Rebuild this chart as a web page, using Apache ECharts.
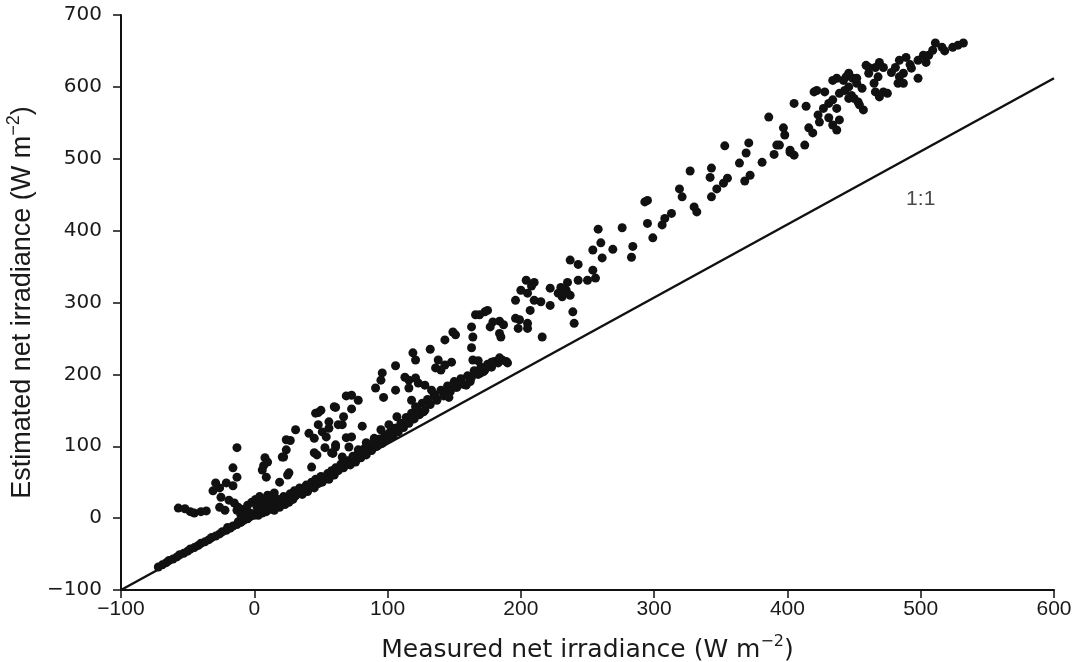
<!DOCTYPE html>
<html>
<head>
<meta charset="UTF-8">
<title>Net irradiance</title>
<script src="https://cdn.jsdelivr.net/npm/echarts@6/dist/echarts.min.js"></script>
<style>
  html, body { margin: 0; padding: 0; background: #fff; }
  #chart { width: 1081px; height: 662px; }
</style>
</head>
<body>
<div id="chart"></div>
<script>
  // axis ticks
  var xTicks = [-100, 0, 100, 200, 300, 400, 500, 600];
  var yTicks = [-100, 0, 100, 200, 300, 400, 500, 600, 700];

  // 1:1 reference line (as drawn in the figure)
  var oneToOne = [[-100, -100], [600, 612]];
  var oneToOneLabel = [[500, 444]];

  // points hugging the 1:1 line at low irradiance
  var lowStrip = [[-72,-68],[-69,-65],[-66,-62],[-64,-59],[-61,-57],[-58,-54],[-56,-51],[-53,-49],[-50,-46],[-48,-43],
    [-45,-41],[-42,-38],[-40,-35],[-37,-33],[-34,-30],[-32,-27],[-29,-25],[-26,-22],[-24,-19],[-21,-17],[-18,-14],
    [-16,-11],[-13,-9],[-10,-6],[-8,-3],[-5,-1],[-3,2],[0,4],[-20,-13],[-12,-5],[-6,0],[-2,6]];

  // lower arm of the cloud
  var lowerArm = [[2,8],[3,4],[5,11],[6,7],[8,14],[9,9],[10,18],[11,12],[13,16],[14,22],[15,11],[17,20],[18,26],
    [19,15],[21,24],[22,30],[23,19],[25,28],[26,22],[27,34],[29,26],[30,38],[31,31],[33,36],[34,42],[36,33],[37,40],
    [39,46],[40,37],[42,44],[43,50],[45,42],[46,54],[48,48],[50,58],[51,50],[53,56],[55,62],[56,54],[58,66],[60,60],
    [61,70],[-8,12],[-5,18],[-2,22],[1,26],[4,30],[7,24],[10,32],[12,28],[15,35],[-4,8],[2,16],[6,20],
    [63,66],[65,75],[67,70],[70,80],[72,74],[74,86],[76,78],[78,90],[80,84],[82,96],[84,88],[86,100],[88,94],
    [90,106],[92,100],[94,110],[96,104],[98,116],[100,110],[102,120],[104,114],[106,125],[108,120],[110,132],
    [112,126],[114,140],[116,132],[118,146],[120,138],[122,152],[124,144],[126,160],[128,150],[130,165],[132,158],
    [135,172],[137,164],[140,178],[142,170],[145,184],[147,176],[150,190],[152,182],[155,194],[157,186],[160,198],
    [162,190],[165,205],[168,200],[170,210],[172,204],[175,214],[178,210],[180,218],[183,216],[186,220],[189,218]];

  // upper arm, low end
  var upperLow = [[-57,14],[-52,13],[-48,9],[-45,7],[-40,9],[-36,10],[-29,49],[-26,42],[-31,38],[-25,29],[-26,15],
    [-22,11],[-21,49],[-16,45],[-19,25],[-15,21],[-13,11],[-13,98],[-16,70],[-13,57],[-12,15],[-10,4],[8,84],[10,78],
    [6,67],[9,57],[19,50],[24,95],[21,85],[24,109],[31,123],[41,118],[46,146],[45,91],[43,71],[26,63],
    [27,108],[22,85],[7,73],[25,60],[48,147],[61,154],[69,170],[48,130],[56,125],[63,130],[61,102],[69,112],
    [53,98],[59,90]];

  // upper arm, middle
  var upperMid = [[166,283],[173,287],[149,259],[151,255],[143,248],[163,266],[164,252],[163,237],[164,220],[168,219],
    [132,235],[119,230],[121,220],[138,220],[143,213],[148,217],[140,206],[136,209],[106,212],[96,202],[95,192],
    [91,181],[106,178],[97,168],[113,196],[116,192],[121,195],[123,188],[116,181],[128,185],[133,178],[136,168],
    [143,175],[146,168],[151,182],[155,192],[159,185],[163,196],[168,202],[173,206],[118,164],[121,155],[127,148],
    [73,171],[78,164],[50,150],[60,155],[73,152],[67,141],[56,134],[66,130],[81,128],[51,120],[45,111],[54,113],
    [61,99],[58,91],[47,88],[95,123],[101,130],[107,141],[106,125],[90,111],[84,105],[73,113],[71,99],[78,95],[66,85],
    [293,440],[295,410],[299,390],[276,404],[284,378],[283,363],[258,402],[260,383],[269,374],[254,373],[261,362],
    [237,359],[243,353],[254,345],[256,334],[250,331],[243,331],[235,328],[230,321],[234,317],[228,313],[231,308],
    [237,310],[222,320],[204,331],[210,328],[200,317],[208,323],[205,313],[210,303],[215,301],[222,296],[196,303],
    [207,289],[239,287],[240,271],[196,278],[199,276],[205,271],[205,264],[198,264],[175,289],[169,283],[179,273],
    [184,274],[177,266],[187,269],[184,257],[185,252],[216,252],[184,223],[190,216],[178,217],[174,210],[170,202]];

  // upper arm, high end
  var upperHigh = [[386,558],[423,561],[397,543],[398,533],[416,543],[419,536],[353,518],[371,522],[369,508],[392,519],
    [402,512],[405,505],[390,506],[413,519],[364,494],[381,495],[327,483],[343,487],[342,474],[355,473],[352,466],
    [372,477],[368,469],[347,458],[343,447],[319,458],[321,447],[295,442],[330,433],[332,426],[313,424],[308,417],
    [306,408],[405,577],[414,573],[420,593],[394,519],[402,509],
    [532,661],[528,658],[524,655],[516,655],[511,661],[509,651],[506,644],[502,644],[498,637],[504,634],[489,641],
    [484,637],[481,627],[487,619],[493,626],[484,614],[483,605],[487,605],[498,612],[469,634],[466,627],[472,627],
    [461,627],[459,630],[461,619],[468,614],[465,605],[466,593],[472,593],[469,586],[475,591],[446,619],[444,614],
    [449,612],[442,609],[437,612],[434,609],[452,605],[446,600],[443,595],[448,588],[446,584],[450,584],[453,579],
    [454,575],[457,568],[439,591],[434,582],[431,577],[427,570],[437,570],[439,554],[431,557],[424,551],[434,547],
    [437,540],[422,595],[428,593],[452,612],[456,598],[478,620],[492,631],[518,650]];

  var points = lowStrip.concat(lowerArm, upperLow, upperMid, upperHigh);

  var myChart = echarts.init(document.getElementById('chart'));

  function minus(v) { return String(v).replace('-', '\u2212'); }

  var axisCommon = {
    axisLine: { show: true, onZero: false, lineStyle: { color: '#111', width: 2 } },
    axisTick: { show: true, inside: false, length: 8, lineStyle: { color: '#111', width: 1.5 } },
    splitLine: { show: false }
  };

  var option = {
    animation: false,
    backgroundColor: '#fff',
    grid: { left: 121, right: 27, top: 15, bottom: 72, containLabel: false, outerBoundsMode: 'none' },
    xAxis: Object.assign({}, axisCommon, {
      type: 'value',
      min: xTicks[0], max: xTicks[xTicks.length - 1], interval: 100,
      axisLabel: { color: '#1a1a1a', fontSize: 21, fontFamily: 'Liberation Sans Narrow, Liberation Sans, sans-serif', margin: 9,
        formatter: minus },
      name: '{a|Measured net irradiance (W m}{s|\u22122}{a|)}',
      nameLocation: 'middle', nameGap: 42,
      nameTextStyle: { rich: {
        a: { fontSize: 25, color: '#1a1a1a', fontFamily: 'DejaVu Sans, sans-serif', padding: [6, 0, 0, 0] },
        s: { fontSize: 16, color: '#1a1a1a', fontFamily: 'DejaVu Sans, sans-serif', padding: [0, 0, 12, 0] }
      } }
    }),
    yAxis: Object.assign({}, axisCommon, {
      type: 'value',
      min: yTicks[0], max: yTicks[yTicks.length - 1], interval: 100,
      axisLabel: { color: '#1a1a1a', fontSize: 20, fontFamily: 'DejaVu Sans, sans-serif', margin: 19,
        formatter: minus },
      name: '{a|Estimated net irradiance (W m}{s|\u22122}{a|)}',
      nameLocation: 'middle', nameRotate: 90, nameGap: 82,
      nameTextStyle: { rich: {
        a: { fontSize: 27, color: '#1a1a1a', fontFamily: 'Liberation Sans Narrow, Liberation Sans, sans-serif', padding: [6, 0, 0, 0] },
        s: { fontSize: 18, color: '#1a1a1a', fontFamily: 'Liberation Sans Narrow, Liberation Sans, sans-serif', padding: [0, 0, 12, 0] }
      } }
    }),
    series: [
      {
        type: 'line',
        data: oneToOne,
        symbol: 'none',
        lineStyle: { color: '#111', width: 2.5 },
        z: 1
      },
      {
        type: 'scatter',
        data: points,
        symbolSize: 9,
        itemStyle: { color: '#111', opacity: 1 },
        z: 2
      },
      {
        type: 'scatter',
        data: oneToOneLabel,
        symbolSize: 0,
        label: { show: true, position: 'inside', formatter: '1:1', color: '#1a1a1a', fontSize: 21,
          fontFamily: 'Liberation Sans, sans-serif' },
        z: 3
      }
    ]
  };

  myChart.setOption(option);
</script>
</body>
</html>
